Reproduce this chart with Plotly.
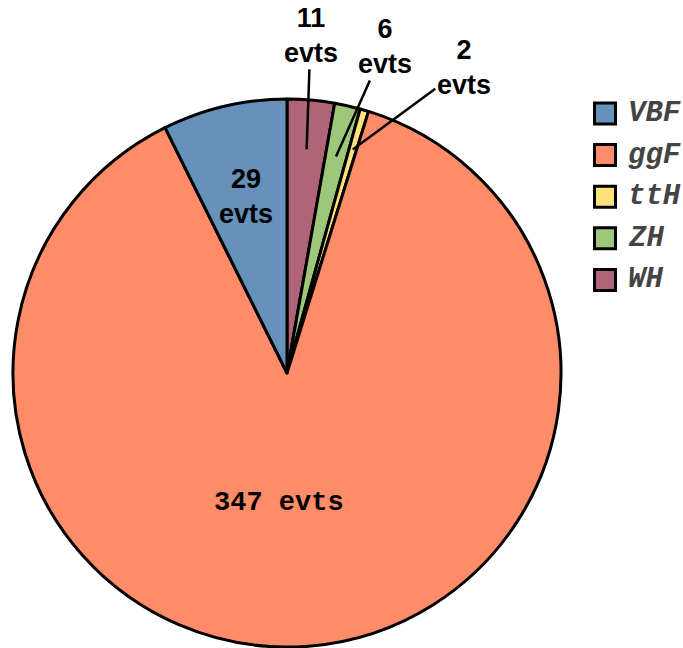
import math
import plotly.graph_objects as go

# Event yields per Higgs production mode
labels = ["VBF", "ggF", "ttH", "ZH", "WH"]
events = [29, 347, 2, 6, 11]
colors = ["#6591BB", "#FF8C69", "#FFE07A", "#9DC77A", "#B06478"]

W, H = 683, 648
ML, MR, MT, MB = 13, 122, 99, 1
PW, PH = W - ML - MR, H - MT - MB


def px_to_paper(px, py):
    return (px - ML) / PW, (H - MB - py) / PH


total = sum(events)

# slices run clockwise from 12 o'clock starting with WH
order = list(range(len(labels)))[::-1]
pick = lambda seq: [seq[i] for i in order]

fig = go.Figure(
    go.Pie(
        labels=pick(labels),
        values=pick(events),
        textinfo="none",
        sort=False,
        direction="clockwise",
        rotation=0,
        marker=dict(colors=pick(colors), line=dict(color="black", width=3)),
        hoverinfo="label+value",
        showlegend=False,
    )
)

sans = dict(family="Liberation Sans", size=27, color="black", weight="bold")
mono = dict(family="Liberation Mono", size=27, color="black", weight="bold")

# label placement: (radius fraction, arrow dx, arrow dy, xshift, text, font)
place = {
    "VBF": (0.66, None, None, 0, "{v}<br>evts", sans),
    "ggF": (0.475, None, None, -18, "{v} evts", mono),
    "ttH": (0.85, 111, -82, 0, "{v}<br>evts", sans),
    "ZH": (0.81, 49, -110, 0, "{v}<br>evts", sans),
    "WH": (0.82, 4, -114, 0, "{v}<br>evts", sans),
}
cum = 0.0
for lab, v in zip(pick(labels), pick(events)):
    mid = math.radians((cum + v / 2) / total * 360)
    cum += v
    f, ax, ay, xs, fmt, font = place[lab]
    arrow = ax is not None
    fig.add_annotation(
        x=0.5 + f * 0.5 * math.sin(mid),
        y=0.5 + f * 0.5 * math.cos(mid),
        xref="paper", yref="paper",
        xanchor="center", yanchor="middle",
        text=fmt.format(v=v),
        showarrow=arrow, arrowhead=0, arrowwidth=2.5, arrowcolor="black",
        ax=ax if arrow else 0, ay=ay if arrow else 0,
        xshift=xs,
        font=font,
    )

# Legend drawn as framed swatches with labels
sq = 21
for i, (lab, col) in enumerate(zip(labels, colors)):
    cy = 113.5 + i * 41.6
    x0, y0 = px_to_paper(594.5, cy + sq / 2)
    x1, y1 = px_to_paper(594.5 + sq, cy - sq / 2)
    fig.add_shape(type="rect", xref="paper", yref="paper", x0=x0, y0=y0, x1=x1, y1=y1,
                  fillcolor=col, line=dict(color="black", width=3))
    tx, ty = px_to_paper(626, cy)
    fig.add_annotation(x=tx, y=ty, xref="paper", yref="paper", xanchor="left", yanchor="middle",
                       text=f"<b><i>{lab}</i></b>", showarrow=False,
                       font=dict(family="Liberation Mono", size=29, color="#444444"))

fig.update_layout(
    width=W, height=H,
    margin=dict(l=ML, r=MR, t=MT, b=MB),
    paper_bgcolor="white", plot_bgcolor="white",
)

fig.write_html("out.html")
